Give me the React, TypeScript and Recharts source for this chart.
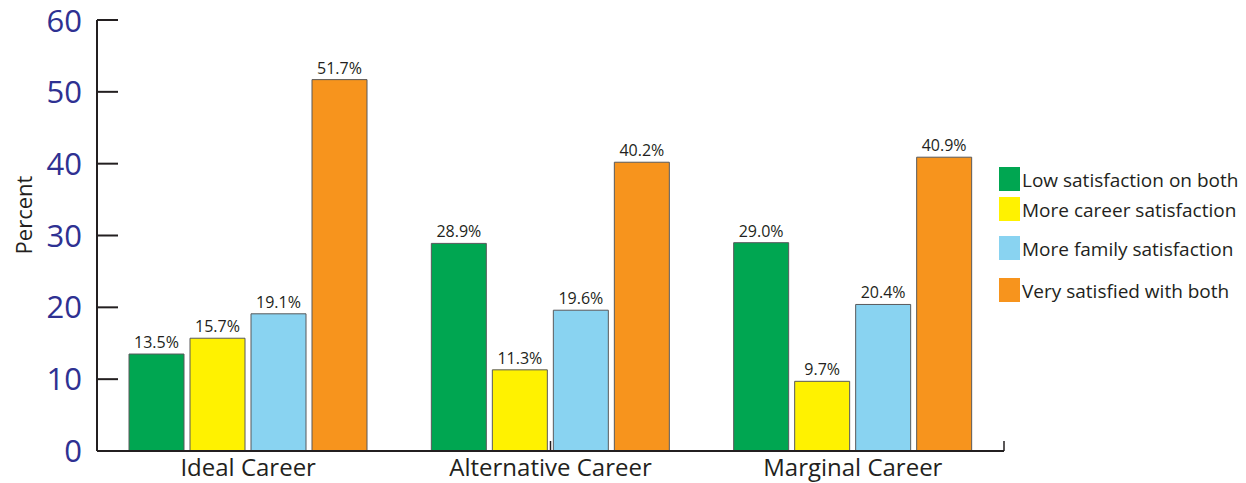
import { Bar, BarChart, LabelList, XAxis, YAxis, Label } from "recharts";

const categories = ["Ideal Career", "Alternative Career", "Marginal Career"];
const lowBoth = [13.5, 28.9, 29.0];
const moreCareer = [15.7, 11.3, 9.7];
const moreFamily = [19.1, 19.6, 20.4];
const veryBoth = [51.7, 40.2, 40.9];
const yTicks = [0, 10, 20, 30, 40, 50, 60];
const groupEdges = [1, 2, 3];

const series = [
  { key: "low", name: "Low satisfaction on both", values: lowBoth, color: "#00A651" },
  { key: "career", name: "More career satisfaction", values: moreCareer, color: "#FFF200" },
  { key: "family", name: "More family satisfaction", values: moreFamily, color: "#89D3F1" },
  { key: "very", name: "Very satisfied with both", values: veryBoth, color: "#F7941D" },
];

const data = categories.map((cat, i) => {
  const row: Record<string, string | number> = { cat };
  series.forEach((s) => (row[s.key] = s.values[i]));
  return row;
});

// legend rows are not evenly spaced in the original
const legendTops = [167, 197, 236, 278];

const font = "'Open Sans', 'Noto Sans', sans-serif";
const ink = "#231F20";

export default function App() {
  return (
    <div style={{ position: "absolute", left: 0, top: 0, width: 1246, height: 483, fontFamily: font }}>
      <BarChart
        width={1246}
        height={483}
        data={data}
        margin={{ top: 20, right: 242, left: 0, bottom: 0 }}
        barCategoryGap={32}
        barGap={6}
      >
        {/* axis line with group separators, sits right on the plot edge */}
        <XAxis
          xAxisId="a_edge"
          type="number"
          domain={[0, 3]}
          ticks={groupEdges}
          tick={() => <g />}
          tickLine={{ stroke: ink, strokeWidth: 1.5 }}
          tickSize={-10}
          height={1}
          axisLine={{ stroke: ink, strokeWidth: 2 }}
        />
        <XAxis
          xAxisId="b_cat"
          dataKey="cat"
          axisLine={false}
          tickLine={false}
          tickSize={0}
          tickMargin={7}
          height={31}
          tick={{ fill: ink, fontSize: 24, fontFamily: font }}
        />
        <YAxis
          width={97}
          domain={[0, 60]}
          ticks={yTicks}
          tickSize={-21}
          tickMargin={36}
          stroke={ink}
          strokeWidth={2}
          tick={{ fill: "#2E3192", fontSize: 31, fontFamily: font }}
        >
          <Label
            position="insideLeft"
            content={({ viewBox }: any) => {
              const x = viewBox.x + 23;
              const y = 215;
              return (
                <text
                  x={x}
                  y={y}
                  transform={`rotate(-90 ${x} ${y})`}
                  textAnchor="middle"
                  dominantBaseline="central"
                  fill={ink}
                  fontSize={22}
                  fontFamily={font}
                >
                  Percent
                </text>
              );
            }}
          />
        </YAxis>
        {series.map((s) => (
          <Bar
            key={s.key}
            xAxisId="b_cat"
            dataKey={s.key}
            name={s.name}
            fill={s.color}
            stroke="#58595B"
            strokeWidth={1}
            isAnimationActive={false}
          >
            <LabelList
              dataKey={s.key}
              position="top"
              offset={6}
              formatter={(v: any) => `${Number(v).toFixed(1)}%`}
              style={{ fill: ink, fontSize: 16, fontFamily: font }}
            />
          </Bar>
        ))}
      </BarChart>
      {series.map((s, i) => (
        <div
          key={s.key}
          style={{
            position: "absolute",
            left: 999,
            top: legendTops[i],
            height: 24,
            display: "flex",
            alignItems: "flex-end",
            whiteSpace: "nowrap",
          }}
        >
          <div style={{ width: 21, height: 24, background: s.color, marginRight: 2 }} />
          <span style={{ fontSize: 19, color: ink, lineHeight: "19px", marginBottom: 1 }}>{s.name}</span>
        </div>
      ))}
    </div>
  );
}
